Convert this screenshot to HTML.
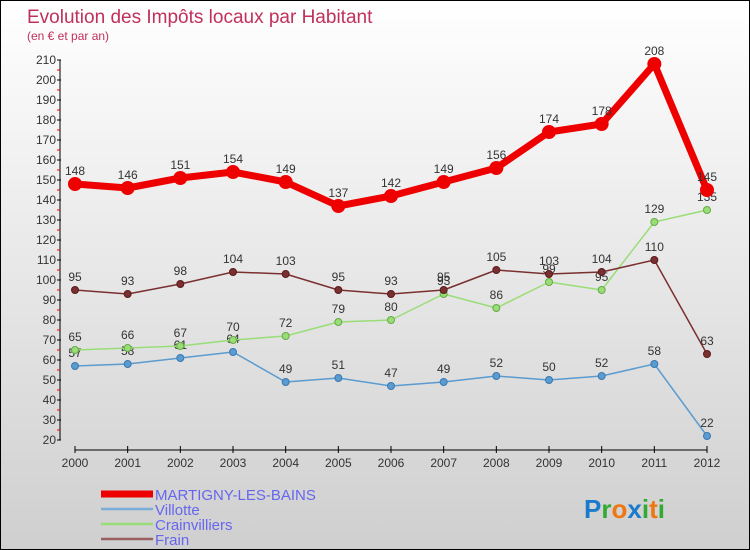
<!DOCTYPE html>
<html><head><meta charset="utf-8"><style>
html,body{margin:0;padding:0}
body{width:750px;height:550px;overflow:hidden;font-family:"Liberation Sans",sans-serif}
#wrap{position:relative;width:748px;height:548px;border:1px solid #000;background:linear-gradient(#ffffff,#cfcfcf)}
</style></head><body>
<div id="wrap">
<svg id="chart" width="748" height="548" style="position:absolute;left:0;top:0"></svg>
</div>
<script>
const years=["2000","2001","2002","2003","2004","2005","2006","2007","2008","2009","2010","2011","2012"];
const martigny=[148,146,151,154,149,137,142,149,156,174,178,208,145];
const villotte=[57,58,61,64,49,51,47,49,52,50,52,58,22];
const crainvilliers=[65,66,67,70,72,79,80,93,86,99,95,129,135];
const frain=[95,93,98,104,103,95,93,95,105,103,104,110,63];
const yTicks=[20,30,40,50,60,70,80,90,100,110,120,130,140,150,160,170,180,190,200,210];
const NS="http://www.w3.org/2000/svg";
const svg=document.getElementById('chart');
function X(i){return 74+i*(632/(years.length-1));}
function Y(v){return 439-(v-20)*2;}
function mk(t,a,p){const e=document.createElementNS(NS,t);for(const k in a)e.setAttribute(k,a[k]);(p||svg).appendChild(e);return e;}
// title
let t=mk('text',{x:26,y:22,fill:'#c0305a','font-size':19});t.textContent='Evolution des Impôts locaux par Habitant';


t=mk('text',{x:26,y:39,fill:'#c0305a','font-size':12});t.textContent='(en € et par an)';


// axes
let ax=mk('line',{x1:59,y1:Y(210),x2:59,y2:Y(20),stroke:'#000','stroke-width':1});


ax=mk('line',{x1:74,y1:449,x2:706,y2:449,stroke:'#000','stroke-width':1});


yTicks.forEach((v,i)=>{
  mk('line',{x1:56,y1:Y(v),x2:60,y2:Y(v),stroke:'#000'});
  if(i<yTicks.length-1) mk('line',{x1:56,y1:Y(v+5),x2:59,y2:Y(v+5),stroke:'#e00'});
  const l=mk('text',{x:55,y:Y(v)+4,'text-anchor':'end','font-size':12,fill:'#333'});l.textContent=v;
  
  
});
years.forEach((y,i)=>{
  mk('line',{x1:X(i),y1:445,x2:X(i),y2:452,stroke:'#000'});
  const l=mk('text',{x:X(i),y:466,'text-anchor':'middle','font-size':12,fill:'#333'});l.textContent=y;
  
  
});
function series(data,color,w,r,name,dotStroke){
  const g=mk('g',{});
  
  
  const pl=mk('polyline',{points:data.map((v,i)=>X(i)+','+Y(v)).join(' '),fill:'none',stroke:color,'stroke-width':w,'stroke-linejoin':'round'},g);
  
  
  data.forEach((v,i)=>{
    const c=mk('circle',{cx:X(i),cy:Y(v),r:r,fill:color,stroke:dotStroke,'stroke-width':1},g);
    
    
    const l=mk('text',{x:X(i),y:Y(v)-9,'text-anchor':'middle','font-size':12,fill:'#333'},g);l.textContent=v;
    
    
  });
}
series(villotte,'#5a9bd0',1.5,3.5,'villotte','#3a78b0');
series(crainvilliers,'#99dd77',1.5,3.5,'crainvilliers','#66aa44');
series(frain,'#7a3030',1.5,3.5,'frain','#5a1a1a');
series(martigny,'#ee0000',7,6.5,'martigny','#ee0000');
// legend
const leg=[['MARTIGNY-LES-BAINS','#ee0000',7],['Villotte','#7aaed8',2.5],['Crainvilliers','#99dd77',2.5],['Frain','#9a6060',2.5]];
leg.forEach((d,i)=>{
  const y=493+i*15;
  const g=mk('g',{});
  
  
  mk('line',{x1:100,y1:y,x2:152,y2:y,stroke:d[1],'stroke-width':d[2]},g);
  const l=mk('text',{x:154,y:y+6,'font-size':15,fill:'#6666ee'},g);l.textContent=d[0];
});
// logo
const logo=mk('text',{x:583,y:517,'font-size':26,'font-weight':'bold'});


[['P','#1a7acc'],['r','#33aa33'],['o','#ee7711'],['x','#1a7acc'],['i','#33aa33'],['t','#ee7711'],['i','#33aa33']].forEach(d=>{const s=mk('tspan',{fill:d[1]},logo);s.textContent=d[0];});
</script>
</body></html>
